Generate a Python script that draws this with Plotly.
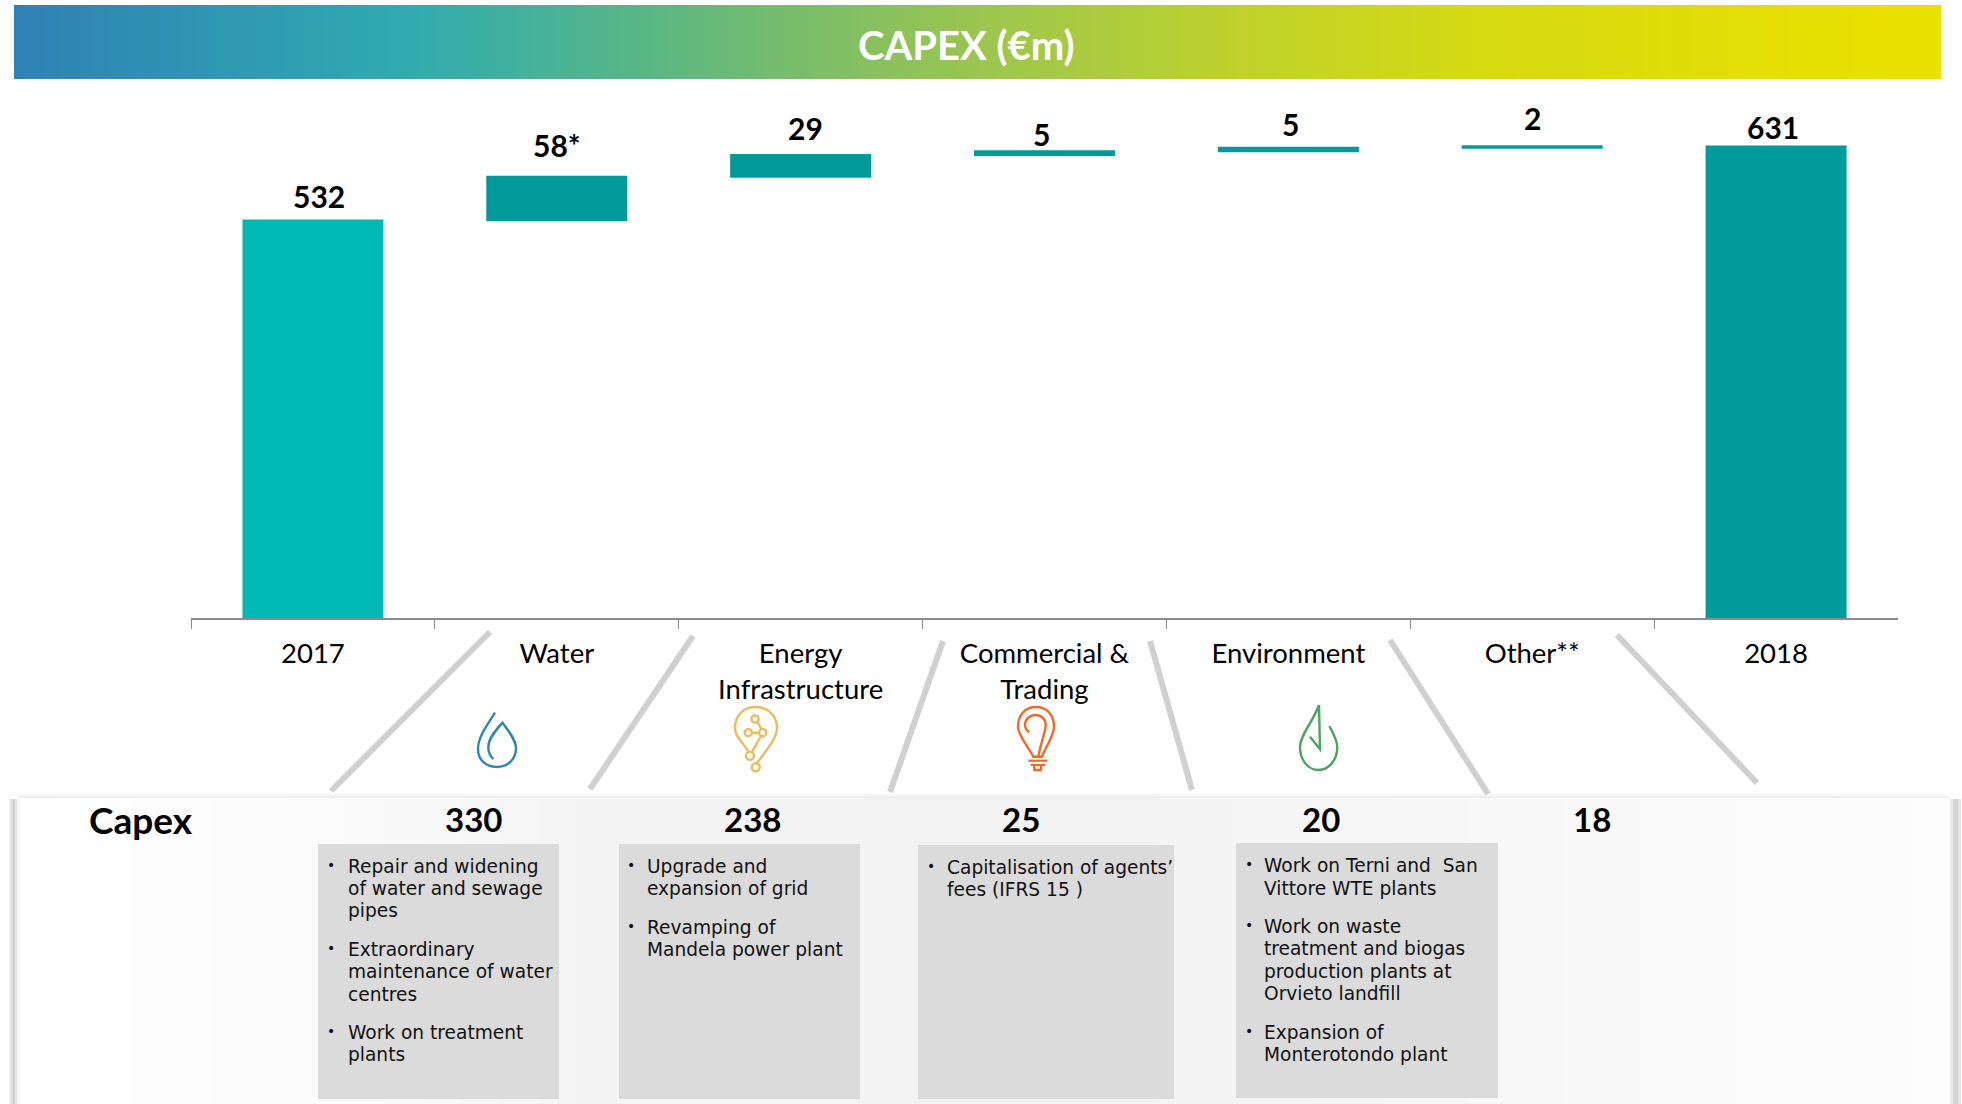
import numpy as np
import plotly.graph_objects as go

# ---------- data ----------
categories = ["2017", "Water", "Energy<br>Infrastructure", "Commercial &<br>Trading", "Environment", "Other**", "2018"]
bar_values = [532, 58, 29, 5, 5, 2, 631]
bar_bases = [0, 531, 589, 618, 623, 628, 0]
bar_labels = ["532", "58*", "29", "5", "5", "2", "631"]

capex_labels = ["330", "238", "25", "20", "18"]
box_text = [
    [("Repair and widening", True), ("of water and sewage", False), ("pipes", False),
     ("Extraordinary", True), ("maintenance of water", False), ("centres", False),
     ("Work on treatment", True), ("plants", False)],
    [("Upgrade and", True), ("expansion of grid", False),
     ("Revamping of", True), ("Mandela power plant", False)],
    [("Capitalisation of agents’", True), ("fees (IFRS 15 )", False)],
    [("Work on Terni and  San", True), ("Vittore WTE plants", False),
     ("Work on waste", True), ("treatment and biogas", False), ("production plants at", False), ("Orvieto landfill", False),
     ("Expansion of", True), ("Monterotondo plant", False)],
]

# ---------- styling / placement ----------
W, H = 1962, 1104
AX_L, AX_R, AX_Y, PLOT_TOP = 191, 1898, 618, 80
Y_MAX = (AX_Y - PLOT_TOP) / 0.749
BAR_COLORS = ["#00B9B4"] + ["#009A9A"] * 6
BAR_WIDTHS = [0.578, 0.570, 0.570, 0.570, 0.570, 0.570, 0.578]
BAR_LINE = [0, 2, 2, 2, 2, 2, 0]
LABEL_XSHIFT = [6, 0, 5, -3, 2, 0, -3]
LABEL_YSHIFT = [24, 32, 27, 17, 24, 28, 18]
BOLD = "Lato, 'Open Sans', sans-serif"
BODY = "'DejaVu Sans', Verdana, sans-serif"

fig = go.Figure()

# page-sized helper axes (x2 / y2) for the banner, panel and decorations
grad_x = np.linspace(14, 1941, 201).tolist()
grad_z = grad_x[:-1]
fig.add_trace(go.Heatmap(
    x=grad_x, y=[5, 42, 79], z=[grad_z, grad_z], xaxis="x2", yaxis="y2",
    showscale=False, hoverinfo="skip", zmin=14, zmax=1941,
    colorscale=[[0, "#2F82B5"], [0.2, "#2FABB0"], [0.317, "#56B689"], [0.415, "#7DBE67"],
                [0.502, "#9CC64E"], [0.632, "#BFD22C"], [0.762, "#D6DA12"], [0.969, "#E9E000"], [1, "#E9E000"]],
))
panel_x = np.linspace(16, 1952, 101).tolist()
panel_z = panel_x[:-1]
fig.add_trace(go.Heatmap(
    x=panel_x, y=[797, 950, 1104], z=[panel_z, panel_z], xaxis="x2", yaxis="y2",
    showscale=False, hoverinfo="skip", zmin=16, zmax=1952,
    colorscale=[[0, "#FFFFFF"], [0.15, "#FBFBFB"], [0.3, "#F4F4F4"], [0.56, "#F3F3F3"],
                [0.77, "#F8F8F8"], [1, "#FDFDFD"]],
))

# waterfall bars
fig.add_trace(go.Bar(
    x=categories, y=bar_values, base=bar_bases, width=BAR_WIDTHS,
    marker=dict(color=BAR_COLORS, line=dict(color=BAR_COLORS, width=BAR_LINE)),
    hoverinfo="skip",
))

shapes = []
def page_rect(x0, y0, x1, y1, color):
    shapes.append(dict(type="rect", xref="x2", yref="y2", x0=x0, y0=y0, x1=x1, y1=y1,
                       fillcolor=color, line_width=0, layer="above"))
def page_line(x0, y0, x1, y1, color, width):
    shapes.append(dict(type="line", xref="x2", yref="y2", x0=x0, y0=y0, x1=x1, y1=y1,
                       line=dict(color=color, width=width), layer="above"))
def page_path(d, color, width=2.4):
    shapes.append(dict(type="path", xref="x2", yref="y2", path=d,
                       line=dict(color=color, width=width), layer="above"))
def page_circle(cx, cy, r, color, width=2.4):
    shapes.append(dict(type="circle", xref="x2", yref="y2", x0=cx-r, y0=cy-r, x1=cx+r, y1=cy+r,
                       line=dict(color=color, width=width), layer="above"))

# panel shadows
for x0, x1, c in [(9, 11, "#EFEFEF"), (11, 13, "#DCDCDC"), (13, 15, "#D2D2D2"), (15, 17, "#E6E6E6"), (17, 19, "#F6F6F6"),
                  (1949, 1951, "#F4F4F4"), (1951, 1953, "#E8E8E8"), (1953, 1955, "#D6D6D6"), (1955, 1958, "#D2D2D2"), (1958, 1961, "#E6E6E6")]:
    page_rect(x0, 799, x1, 1104, c)
page_rect(19, 794, 1949, 796, "#F6F6F6")
page_rect(19, 796, 1949, 798, "#EEEEEE")

# diagonal connectors
for x0, y0, x1, y1 in [(490, 632, 331, 791), (693, 636, 590, 789), (943, 641, 890, 792),
                       (1150, 641, 1192, 790), (1390, 640, 1488, 794), (1617, 635, 1757, 783)]:
    page_line(x0, y0, x1, y1, "#D0D0D0", 6)

# grey boxes
for x0, y0, x1, y1 in [(318, 844, 559, 1099), (619, 844, 860, 1099), (918, 845, 1174, 1099), (1236, 843, 1498, 1098)]:
    page_rect(x0, y0, x1, y1, "#DBDBDB")

# icons
BLUE, YEL, ORG, GRN = "#2E86B5", "#E8BC5F", "#F0692B", "#4FA35F"
page_path("M495,712.7 C485,728 478,738 478,749 C478,760 486,767 497,767 C508,767 516,759 516,748 "
          "C516,740 508,730 502.3,722.7 C497,729 488.3,738 488.3,747 C488.3,752 490,756 493.3,759", BLUE)
page_path("M748,751 C741,740 735,736 735,728 C735,715 744,707 755.7,707 C768,707 777,716 777,728 "
          "C777,737 770,746 757,763", YEL)
for cx, cy, r in [(755, 719, 3.6), (748.3, 732.7, 3.6), (762.7, 732.7, 3.6), (750, 755.7, 4), (755.7, 767.3, 4)]:
    page_circle(cx, cy, r, YEL)
page_path("M757.5,722 L761.5,729.5 M752,732.7 L759,732.7 M761,736 L752,752", YEL)
page_path("M1033.3,756.7 C1027,745 1018,735 1018,727 C1018,715 1025,707 1036,707 C1047,707 1054,715 1054,727 "
          "C1054,733 1050,740 1046,748 L1041.7,756.7 Z", ORG)
page_path("M1029.3,732.3 C1026,730 1025,728 1025,725 C1025,719 1030,715 1036,715 C1042,715 1045.7,720 1045.7,725 "
          "C1045.7,732 1042,738 1038.3,756.7", ORG)
page_line(1028.3, 760.7, 1047.3, 760.7, ORG, 2.2)
page_line(1030.7, 765, 1045, 765, ORG, 2.2)
page_path("M1034.3,765.7 V770 H1041 V765.7", ORG)
page_path("M1319,705 C1313,722 1300,735 1300,747 C1300,760 1308,770 1318.3,770 C1329,770 1337.3,760 1337.3,747 "
          "C1337.3,740 1333,733 1329.3,726", GRN)
page_path("M1319,705 L1320,749.3 L1310,736.7", GRN)

annotations = []
def page_text(x, y, text, size, color="#000000", family=BOLD, bold=False, anchor="center"):
    annotations.append(dict(xref="x2", yref="y2", x=x, y=y, text=f"<b>{text}</b>" if bold else text,
                            showarrow=False, xanchor=anchor, yanchor="middle",
                            font=dict(family=family, size=size, color=color)))

# banner + row headings
page_text(966, 45, "CAPEX (€m)", 40, "#FFFFFF", bold=True)
page_text(141, 819, "Capex", 37, bold=True)
for x, t in zip([473, 752, 1021, 1321, 1592], capex_labels):
    page_text(x, 819, t, 33, bold=True)

# box text
box_geom = [
    (331, 345.5, [866, 888, 910, 949, 971, 994, 1032, 1054]),
    (631, 644.5, [866, 888, 927, 949]),
    (931, 944.5, [867, 889]),
    (1249, 1261.5, [865, 888, 926, 948, 971, 993, 1032, 1054]),
]
for (bx, tx, ys), lines in zip(box_geom, box_text):
    for y, (t, has_bullet) in zip(ys, lines):
        page_text(tx, y, t, 18.6, "#111111", BODY, anchor="left")
        if has_bullet:
            page_text(bx, y - 1, "•", 14, "#111111", BODY)

# bar value labels (annotation x is the category index: "2017" would be read as a number)
for i, (v, b, t, dx, dy) in enumerate(zip(bar_values, bar_bases, bar_labels, LABEL_XSHIFT, LABEL_YSHIFT)):
    annotations.append(dict(xref="x", yref="y", x=i, y=v + b, text=f"<b>{t}</b>", showarrow=False,
                            xanchor="center", yanchor="middle", xshift=dx, yshift=dy,
                            font=dict(family=BOLD, size=30, color="#000000")))

fig.update_layout(
    width=W, height=H, autosize=False, margin=dict(l=0, r=0, t=0, b=0, pad=0),
    paper_bgcolor="#FFFFFF", plot_bgcolor="rgba(0,0,0,0)", showlegend=False, barmode="overlay",
    shapes=shapes, annotations=annotations,
    xaxis=dict(domain=[AX_L / W, AX_R / W], type="category", categoryorder="array", categoryarray=categories,
               range=[-0.5, 6.5], tickson="boundaries", ticks="outside", ticklen=9, tickwidth=1, tickcolor="#8C8C8C",
               showline=True, linecolor="#8C8C8C", linewidth=2, showgrid=False, zeroline=False, ticklabelstandoff=10,
               tickfont=dict(family=BOLD, size=27.5, color="#000000"), tickangle=0, automargin=False),
    yaxis=dict(domain=[1 - AX_Y / H, 1 - PLOT_TOP / H], range=[0, Y_MAX], visible=False, automargin=False),
    xaxis2=dict(domain=[0, 1], range=[0, W], visible=False, anchor="y2", fixedrange=True),
    yaxis2=dict(domain=[0, 1], range=[H, 0], visible=False, anchor="x2", fixedrange=True),
)

fig.write_html("out.html", config=dict(displayModeBar=False),
               post_script="document.body.style.margin='0';document.body.style.overflow='hidden';")
